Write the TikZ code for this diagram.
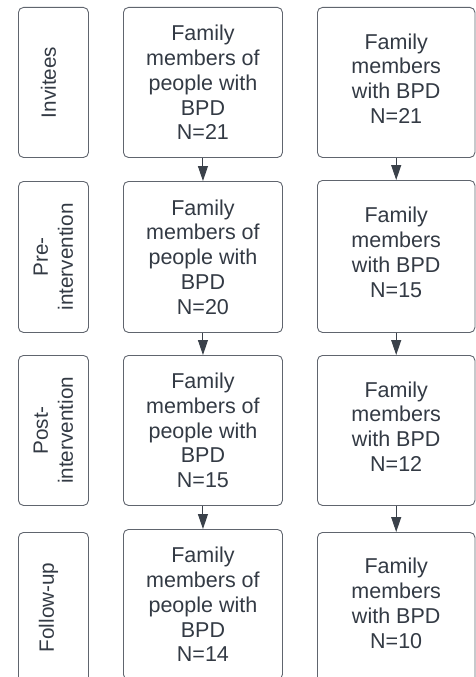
\documentclass[tikz,border=0pt]{standalone}
\usepackage{fontspec}
\setmainfont{Liberation Sans}
\usetikzlibrary{arrows.meta}
\definecolor{txtc}{HTML}{333A44}
\definecolor{edgec}{HTML}{60656E}
\definecolor{arrc}{HTML}{3A414A}
\begin{document}
\begin{tikzpicture}[x=1pt,y=-1pt,
 boxst/.style={draw=edgec, line width=0.9pt, rounded corners=5pt, inner sep=0pt, anchor=north west},
 txtst/.style={text=txtc, align=center, font=\fontsize{21.5}{24.8}\selectfont, inner sep=0pt},
 lblst/.style={text=txtc, align=center, font=\fontsize{20.7}{25}\selectfont, inner sep=0pt, rotate=90},
 arrst/.style={draw=arrc, line width=1pt, -{Triangle[length=15pt,width=10pt]}}]
\useasboundingbox (0,0) rectangle (475,677);
% left label boxes
\node[boxst, minimum width=70, minimum height=150] (l1) at (18,7) {};
\node[boxst, minimum width=70, minimum height=151] (l2) at (18,181) {};
\node[boxst, minimum width=70, minimum height=150] (l3) at (18,355) {};
\node[boxst, minimum width=70, minimum height=150] (l4) at (18,532) {};
\node[lblst] (l1t) at ([xshift=-5pt]l1.center) {Invitees};
\node[lblst] (l2t) at (l2.center) {Pre-\\intervention};
\node[lblst] (l3t) at (l3.center) {Post-\\intervention};
\node[lblst] (l4t) at ([xshift=-5pt]l4.center) {Follow-up};
% middle boxes
\node[boxst, minimum width=159, minimum height=150] (m1) at (123,7) {};
\node[boxst, minimum width=159, minimum height=151] (m2) at (123,181) {};
\node[boxst, minimum width=159, minimum height=150] (m3) at (123,355) {};
\node[boxst, minimum width=159, minimum height=150] (m4) at (123,529) {};
\node[txtst] (m1t) at (m1.center) {Family\\members of\\people with\\BPD\\N=21};
\node[txtst] (m2t) at (m2.center) {Family\\members of\\people with\\BPD\\N=20};
\node[txtst] (m3t) at (m3.center) {Family\\members of\\people with\\BPD\\N=15};
\node[txtst] (m4t) at (m4.center) {Family\\members of\\people with\\BPD\\N=14};
% right boxes
\node[boxst, minimum width=157.5, minimum height=150] (r1) at (317,7) {};
\node[boxst, minimum width=157.5, minimum height=152] (r2) at (317,180) {};
\node[boxst, minimum width=157.5, minimum height=150] (r3) at (317,355) {};
\node[boxst, minimum width=157.5, minimum height=150] (r4) at (317,532) {};
\node[txtst] (r1t) at ([yshift=4pt]r1.center) {Family\\members\\with BPD\\N=21};
\node[txtst] (r2t) at ([yshift=4pt]r2.center) {Family\\members\\with BPD\\N=15};
\node[txtst] (r3t) at ([yshift=4pt]r3.center) {Family\\members\\with BPD\\N=12};
\node[txtst] (r4t) at ([yshift=4pt]r4.center) {Family\\members\\with BPD\\N=10};
% arrows
\draw[arrst] (m1.south) -- (m2.north);
\draw[arrst] (m2.south) -- (m3.north);
\draw[arrst] (m3.south) -- (m4.north);
\draw[arrst] (r1.south) -- (r2.north);
\draw[arrst] (r2.south) -- (r3.north);
\draw[arrst] (r3.south) -- (r4.north);
\end{tikzpicture}
\end{document}
